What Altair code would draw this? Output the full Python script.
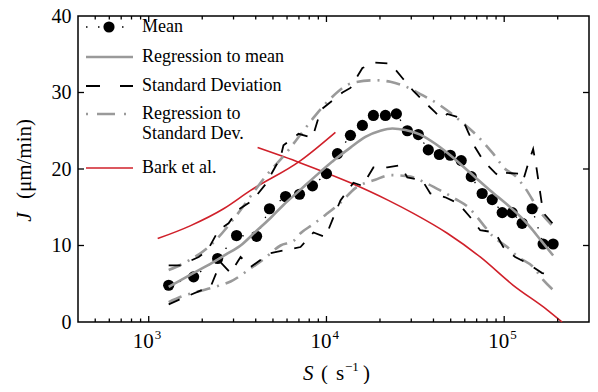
import altair as alt
import pandas as pd

# ---------------- data ----------------
mean_S = [1295, 1789, 2441, 3120, 4045, 4780, 5886, 7050, 8342, 10000, 11530, 13640,
          15930, 18370, 21460, 24740, 28510, 32880, 37410, 43140, 49730, 57300, 65260,
          75160, 85640, 97450, 110900, 126200, 143600, 165600, 188500]
mean_J = [4.8, 5.9, 8.3, 11.3, 11.2, 14.8, 16.4, 16.7, 17.8, 19.4, 22.0, 24.4,
          25.7, 27.0, 27.0, 27.2, 25.0, 24.5, 22.5, 21.9, 21.8, 21.1, 19.0,
          16.8, 16.0, 14.3, 14.3, 12.9, 14.8, 10.2, 10.2]

reg_mean_S = [1295, 1722, 2146, 2708, 3287, 3991, 4844, 5729, 7145, 8900, 11230, 13640,
              16560, 20110, 23480, 27790, 33740, 40970, 49730, 64420, 83410, 108100,
              123000, 140000, 159300, 188500]
reg_mean_J = [4.6, 6.2, 7.4, 8.8, 10.0, 11.8, 13.6, 15.3, 17.3, 19.3, 21.3, 22.8,
              24.2, 25.0, 25.3, 25.1, 24.5, 23.3, 21.8, 19.5, 17.2, 15.0,
              13.8, 12.4, 10.8, 8.7]

sd_up_S = [1295, 1513, 1910, 2146, 2472, 2813, 3162, 3840, 4542, 5515, 5729, 6961, 8342,
           9020, 9495, 12300, 13640, 15930, 18840, 22880, 26730, 30820, 35070, 40970,
           44260, 47840, 58070, 62810, 68710, 76210, 88920, 94950, 101300, 119900,
           127800, 136400, 145500, 151400, 165600, 188500]
sd_up_J = [7.4, 7.4, 8.5, 9.4, 12.0, 12.9, 14.6, 15.9, 18.0, 21.5, 23.1, 24.6, 24.1,
           26.7, 27.9, 30.0, 30.6, 33.2, 33.9, 33.8, 31.9, 30.2, 28.9, 27.4,
           26.6, 27.2, 26.6, 24.8, 22.8, 21.1, 19.5, 18.9, 19.5, 19.4,
           18.5, 20.7, 22.6, 20.4, 14.3, 12.8]

sd_lo_S = [1295, 1474, 1910, 2229, 2538, 2888, 3287, 3741, 4844, 5886, 7145, 8450, 9870,
           10950, 11990, 14180, 15930, 18370, 22020, 26050, 28510, 34620, 38390, 46620,
           55150, 64420, 73280, 88920, 98720, 115300, 134600, 163500, 188500]
sd_lo_J = [2.3, 2.9, 4.0, 4.6, 7.8, 6.4, 8.5, 7.2, 9.0, 9.4, 9.8, 11.7, 11.1,
           13.7, 15.9, 18.2, 17.8, 20.2, 20.2, 20.5, 18.9, 18.5, 16.8, 16.3,
           15.5, 13.7, 12.0, 11.7, 9.8, 8.5, 7.7, 6.4, 6.1]

reg_up_S = [1295, 1614, 2289, 3203, 4045, 4721, 5886, 7145, 8670, 10530, 14180, 18840,
            22880, 27790, 33740, 43700, 56590, 68710, 86700, 101300, 115300, 131200,
            159300, 188500]
reg_up_J = [6.8, 7.8, 10.3, 14.3, 17.5, 19.5, 22.0, 24.5, 27.0, 29.2, 31.3, 31.6,
            31.4, 30.8, 29.8, 28.3, 26.3, 24.6, 22.0, 20.0, 19.1, 17.5,
            14.4, 12.5]

reg_lo_S = [1295, 1513, 1837, 2441, 2888, 3741, 4426, 5515, 6525, 7145, 8450, 9870,
            11990, 14550, 18840, 22880, 29650, 35970, 43700, 53050, 62810, 75160,
            85640, 104000, 119900, 145500, 165600, 188500]
reg_lo_J = [2.6, 3.3, 3.9, 4.7, 5.3, 7.0, 8.2, 10.0, 10.6, 11.6, 12.8, 14.0,
            15.6, 17.5, 18.6, 19.2, 19.0, 18.2, 17.2, 16.1, 15.0, 12.9,
            11.3, 9.8, 8.5, 7.2, 5.5, 4.2]

bark_rise_S = [1123, 1722, 2637, 3741, 7145, 11230]
bark_rise_J = [10.9, 12.6, 14.8, 17.2, 21.1, 24.8]

bark_fall_S = [4098, 7145, 13640, 22300, 30820, 47840, 73280, 112400, 174400, 211800]
bark_fall_J = [22.8, 20.8, 18.2, 15.9, 14.2, 11.6, 8.5, 4.8, 1.6, 0.0]

major_ticks = [1000, 10000, 100000]
major_exps = ["3", "4", "5"]
minor_ticks = [500, 600, 700, 800, 900, 2000, 3000, 4000, 5000, 6000, 7000, 8000, 9000,
               20000, 30000, 40000, 50000, 60000, 70000, 80000, 90000, 200000]
y_ticks = [10, 20, 30]
y_labels = [0, 10, 20, 30, 40]

legend_labels = ["Mean", "Regression to mean", "Standard Deviation",
                 "Regression to", "Standard Dev.", "Bark et al."]

# ---------------- chart ----------------
W, H = 511, 306
FONT = "Liberation Serif"
GRAY = "#9a9a9a"
RED = "#d0202a"

xs = alt.Scale(type="log", domain=[400, 300000], nice=False)
ys = alt.Scale(domain=[0, 40], nice=False)
X = alt.X("S:Q", scale=xs, axis=None)
Y = alt.Y("J:Q", scale=ys, axis=alt.Axis(values=y_labels, labelFont=FONT, labelFontSize=20,
                                          labelPadding=7, labelColor="black", ticks=False,
                                          domain=False, grid=False, title=None))


def frame(S, J, **extra):
    d = {"S": S, "J": J}
    d.update(extra)
    return pd.DataFrame(d)


one = pd.DataFrame({"k": [0]})

sd_df = pd.concat([frame(sd_up_S, sd_up_J, part="up"), frame(sd_lo_S, sd_lo_J, part="lo")])
reg_sd_df = pd.concat([frame(reg_up_S, reg_up_J, part="up"), frame(reg_lo_S, reg_lo_J, part="lo")])

layers = []

layers.append(alt.Chart(frame(bark_rise_S, bark_rise_J)).mark_line(
    color=RED, strokeWidth=1.6, interpolate="monotone").encode(x=X, y=Y))
layers.append(alt.Chart(frame(bark_fall_S, bark_fall_J)).mark_line(
    color=RED, strokeWidth=1.6, interpolate="monotone").encode(x=X, y=Y))

layers.append(alt.Chart(reg_sd_df).mark_line(
    color=GRAY, strokeWidth=2.6, strokeDash=[14, 7, 2, 7], interpolate="monotone").encode(
    x=X, y=Y, detail="part:N"))

layers.append(alt.Chart(sd_df).mark_line(
    color="black", strokeWidth=1.8, strokeDash=[12, 12]).encode(x=X, y=Y, detail="part:N"))

layers.append(alt.Chart(frame(mean_S, mean_J)).mark_line(
    color="black", strokeWidth=1.3, strokeDash=[1.5, 10]).encode(x=X, y=Y))
layers.append(alt.Chart(frame(mean_S, mean_J)).mark_circle(
    color="black", size=125, opacity=1).encode(x=X, y=Y))

layers.append(alt.Chart(frame(reg_mean_S, reg_mean_J)).mark_line(
    color=GRAY, strokeWidth=2.6, interpolate="monotone").encode(x=X, y=Y))

# inward ticks
maj = pd.DataFrame({"S": major_ticks, "e": major_exps})
mnr = pd.DataFrame({"S": minor_ticks})
yt = pd.DataFrame({"J": y_ticks})
tick = dict(color="black", strokeWidth=1.3)
layers.append(alt.Chart(maj).mark_rule(**tick).encode(x=X, y=alt.value(H), y2=alt.value(H - 6)))
layers.append(alt.Chart(maj).mark_rule(**tick).encode(x=X, y=alt.value(0), y2=alt.value(6)))
layers.append(alt.Chart(mnr).mark_rule(**tick).encode(x=X, y=alt.value(H), y2=alt.value(H - 3.5)))
layers.append(alt.Chart(mnr).mark_rule(**tick).encode(x=X, y=alt.value(0), y2=alt.value(3.5)))
layers.append(alt.Chart(yt).mark_rule(**tick).encode(y=Y, x=alt.value(0), x2=alt.value(6)))
layers.append(alt.Chart(yt).mark_rule(**tick).encode(y=Y, x=alt.value(W), x2=alt.value(W - 6)))

# x tick labels 10^n
layers.append(alt.Chart(maj).mark_text(
    text="10", font=FONT, fontSize=21, align="center", baseline="alphabetic", dx=-5.5,
    color="black").encode(x=X, y=alt.value(H + 26)))
layers.append(alt.Chart(maj).mark_text(
    font=FONT, fontSize=13, align="left", baseline="alphabetic", dx=6,
    color="black").encode(x=X, y=alt.value(H + 17), text="e:N"))

# legend
LX0, LX1, TX = 8, 55, 64
rows = [11, 41, 70, 98, 117.5, 152]
layers.append(alt.Chart(one).mark_rule(color="black", strokeWidth=1.3, strokeDash=[1.5, 10.5]).encode(
    x=alt.value(LX0), x2=alt.value(LX0 + 42), y=alt.value(rows[0])))
layers.append(alt.Chart(one).mark_circle(color="black", size=125, opacity=1).encode(
    x=alt.value(31), y=alt.value(rows[0])))
layers.append(alt.Chart(one).mark_rule(color=GRAY, strokeWidth=2.6).encode(
    x=alt.value(LX0), x2=alt.value(LX1), y=alt.value(rows[1])))
layers.append(alt.Chart(one).mark_rule(color="black", strokeWidth=1.8, strokeDash=[14, 20]).encode(
    x=alt.value(LX0), x2=alt.value(LX1), y=alt.value(rows[2])))
layers.append(alt.Chart(one).mark_rule(color=GRAY, strokeWidth=2.6, strokeDash=[2, 9, 18, 9, 2, 20]).encode(
    x=alt.value(LX0), x2=alt.value(LX0 + 42), y=alt.value(rows[3])))
layers.append(alt.Chart(one).mark_rule(color=RED, strokeWidth=1.6).encode(
    x=alt.value(LX0), x2=alt.value(LX1), y=alt.value(rows[5])))
for lab, ry in zip(legend_labels, rows):
    layers.append(alt.Chart(one).mark_text(
        text=lab, font=FONT, fontSize=18, align="left", baseline="middle",
        color="black").encode(x=alt.value(TX), y=alt.value(ry)))

# axis titles
layers.append(alt.Chart(one).mark_text(
    text="J", font=FONT, fontStyle="italic", fontSize=21, angle=270, align="center",
    baseline="middle", color="black").encode(x=alt.value(-53.5), y=alt.value(201)))
layers.append(alt.Chart(one).mark_text(
    text="(μm/min)", font=FONT, fontSize=21, angle=270, align="center",
    baseline="middle", color="black").encode(x=alt.value(-53.5), y=alt.value(143)))

xt_parts = [("S", 225, H + 58, 21, "italic"), ("(", 243, H + 58, 21, "normal"),
            ("s", 258, H + 58, 21, "normal"), ("\u22121", 267, H + 49, 13, "normal"),
            (")", 285, H + 58, 21, "normal")]
for t, px, py, fs, st in xt_parts:
    layers.append(alt.Chart(one).mark_text(
        text=t, font=FONT, fontSize=fs, fontStyle=st, align="left", baseline="alphabetic",
        color="black").encode(x=alt.value(px), y=alt.value(py)))

chart = alt.layer(*layers).properties(
    width=W, height=H,
    autosize=alt.AutoSizeParams(type="none"),
    padding={"left": 70, "top": 8, "right": 1, "bottom": 62},
).configure_view(stroke="black", strokeWidth=1.5)

chart.save("out.html", embed_options={"renderer": "svg", "actions": False})
